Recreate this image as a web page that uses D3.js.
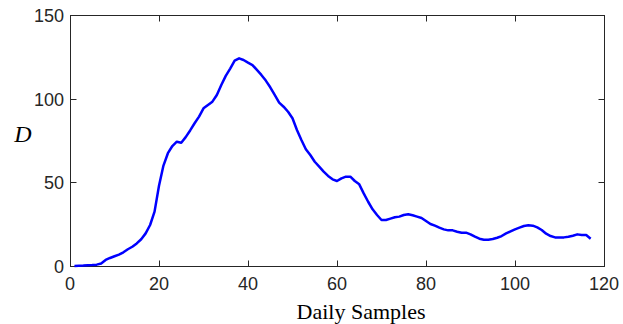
<!DOCTYPE html>
<html>
<head>
<meta charset="utf-8">
<script src="https://d3js.org/d3.v7.min.js"></script>
<style>
  body { margin: 0; background: #fff; }
  .tick-label { font-family: Arial, "Liberation Sans", sans-serif; font-size: 18px; fill: #262626; }
  .axis-title { font-family: "Times New Roman", "Liberation Serif", serif; fill: #000; }
</style>
</head>
<body>
<script>
// daily samples 1..117
var days = d3.range(1, 118);
var dValues = [
  0, 0.2, 0.3, 0.5, 0.6, 0.8, 1.5, 3.6, 4.8, 5.8,
  6.8, 8.2, 10, 11.5, 13.5, 16, 19.5, 24.5, 32.5, 48,
  60, 67.4, 71.7, 74.3, 73.7, 77, 81, 85.3, 89.3, 94.2,
  96.2, 98.2, 102.2, 108.2, 113.6, 118, 122.7, 124.1, 123.1, 121.5,
  120.1, 117.2, 114.2, 110.8, 106.8, 102.2, 97.6, 95.2, 92.2, 88.3,
  81.3, 75.3, 69.8, 66.3, 62.3, 59.4, 56.4, 53.8, 51.8, 50.8,
  52.4, 53.4, 53.4, 50.8, 48.8, 43.4, 38.4, 33.9, 30.5, 27.5,
  27.5, 28.3, 29.1, 29.5, 30.5, 30.9, 30.3, 29.5, 28.7, 26.9,
  25.1, 24.1, 22.9, 21.9, 21.3, 21.3, 20.5, 19.9, 19.9, 18.9,
  17.5, 16.3, 15.7, 15.7, 16.1, 16.9, 17.9, 19.5, 20.7, 21.9,
  22.9, 23.9, 24.3, 24.1, 23.1, 21.5, 19.3, 17.9, 17.1, 17.1,
  17.1, 17.5, 18.1, 18.9, 18.5, 18.5, 16.3
];
var xTicks = [0, 20, 40, 60, 80, 100, 120];
var yTicks = [0, 50, 100, 150];

var W = 623, H = 324;
var mLeft = 70, mRight = 604, mTop = 15, mBottom = 266;

var svg = d3.select("body").append("svg")
    .attr("width", W).attr("height", H);

var x = d3.scaleLinear().domain([0, 120]).range([mLeft, mRight]);
var y = d3.scaleLinear().domain([0, 150]).range([mBottom, mTop]);

var axisColor = "#262626";
var tickLen = 6;

// box
svg.append("rect")
    .attr("x", mLeft + 0.5).attr("y", mTop + 0.5)
    .attr("width", mRight - mLeft).attr("height", mBottom - mTop)
    .attr("fill", "none").attr("stroke", axisColor).attr("stroke-width", 1);

// inward ticks on all four sides
xTicks.forEach(function(t) {
  var px = Math.round(x(t)) + 0.5;
  svg.append("line").attr("x1", px).attr("x2", px)
      .attr("y1", mBottom + 0.5).attr("y2", mBottom + 0.5 - tickLen)
      .attr("stroke", axisColor);
  svg.append("line").attr("x1", px).attr("x2", px)
      .attr("y1", mTop + 0.5).attr("y2", mTop + 0.5 + tickLen)
      .attr("stroke", axisColor);
  svg.append("text").attr("class", "tick-label")
      .attr("x", x(t)).attr("y", mBottom + 24)
      .attr("text-anchor", "middle").text(t);
});
yTicks.forEach(function(t) {
  var py = Math.round(y(t)) + 0.5;
  svg.append("line").attr("x1", mLeft + 0.5).attr("x2", mLeft + 0.5 + tickLen)
      .attr("y1", py).attr("y2", py).attr("stroke", axisColor);
  svg.append("line").attr("x1", mRight + 0.5).attr("x2", mRight + 0.5 - tickLen)
      .attr("y1", py).attr("y2", py).attr("stroke", axisColor);
  svg.append("text").attr("class", "tick-label")
      .attr("x", mLeft - 6).attr("y", y(t) + 7)
      .attr("text-anchor", "end").text(t);
});

// curve
var line = d3.line()
    .x(function(d, i) { return x(days[i]); })
    .y(function(d) { return y(d); });

svg.append("path")
    .datum(dValues)
    .attr("d", line)
    .attr("fill", "none")
    .attr("stroke", "#0000ff")
    .attr("stroke-width", 2.5)
    .attr("stroke-linejoin", "round");

// axis titles
svg.append("text").attr("class", "axis-title")
    .attr("x", 361).attr("y", 319)
    .attr("text-anchor", "middle")
    .style("font-size", "22px")
    .text("Daily Samples");

svg.append("text").attr("class", "axis-title")
    .attr("x", 23).attr("y", 142)
    .attr("text-anchor", "middle")
    .style("font-size", "24px")
    .style("font-style", "italic")
    .text("D");
</script>
</body>
</html>
